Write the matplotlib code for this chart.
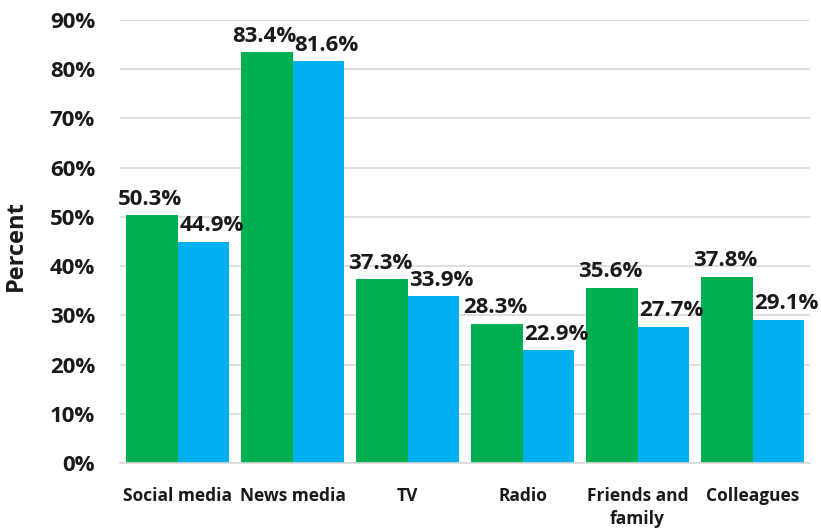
import matplotlib
matplotlib.use("Agg")
import matplotlib.pyplot as plt
import numpy as np

categories = ["Social media", "News media", "TV", "Radio", "Friends and\nfamily", "Colleagues"]
series_a = [50.3, 83.4, 37.3, 28.3, 35.6, 37.8]
series_b = [44.9, 81.6, 33.9, 22.9, 27.7, 29.1]
yticks = [0, 10, 20, 30, 40, 50, 60, 70, 80, 90]

GREEN = "#00B050"
BLUE = "#00B0F0"
INK = "#1a1a1a"
FONT = "Open Sans"

fig = plt.figure(figsize=(8.21, 5.31), dpi=100)
ax = fig.add_axes([120 / 821, 68 / 531, 690 / 821, 443 / 531])

x = np.arange(len(categories))
w = 0.445
bars_a = ax.bar(x - w / 2, series_a, width=w, color=GREEN, zorder=2)
bars_b = ax.bar(x + w / 2, series_b, width=w, color=BLUE, zorder=2)

# value labels: green ones sit over their bar, blue ones nudge a little right
for bars, vals, dx in ((bars_a, series_a, -1.5), (bars_b, series_b, 6)):
    for b, v in zip(bars, vals):
        ax.annotate(f"{v:.1f}%", (b.get_x() + b.get_width() / 2, v),
                    xytext=(dx, 4), textcoords="offset points",
                    ha="center", va="bottom", fontsize=16, fontweight="bold",
                    family=FONT, color=INK, zorder=3)

ax.set_xlim(-0.5, len(categories) - 0.5)
ax.set_ylim(0, 90)
ax.set_yticks(yticks)
ax.set_yticklabels([f"{t}%" for t in yticks], fontsize=16, fontweight="bold",
                   family=FONT, color=INK)
ax.set_xticks(x)
ax.set_xticklabels(categories, fontsize=12.5, fontweight="bold", family=FONT,
                   color=INK, linespacing=1.4)
ax.tick_params(axis="both", length=0)
ax.tick_params(axis="x", pad=17)
ax.tick_params(axis="y", pad=18)

ax.yaxis.grid(True, color="#d9d9d9", linewidth=1.2, zorder=0)
ax.set_axisbelow(True)
for s in ("top", "right", "left"):
    ax.spines[s].set_visible(False)
ax.spines["bottom"].set_color("#d9d9d9")
ax.spines["bottom"].set_linewidth(1.2)

ax.set_ylabel("Percent", fontsize=17, fontweight="bold", family=FONT, color=INK)
ax.yaxis.set_label_coords(-0.133, 0.49)

fig.savefig("out.png", dpi=100, facecolor="white")
